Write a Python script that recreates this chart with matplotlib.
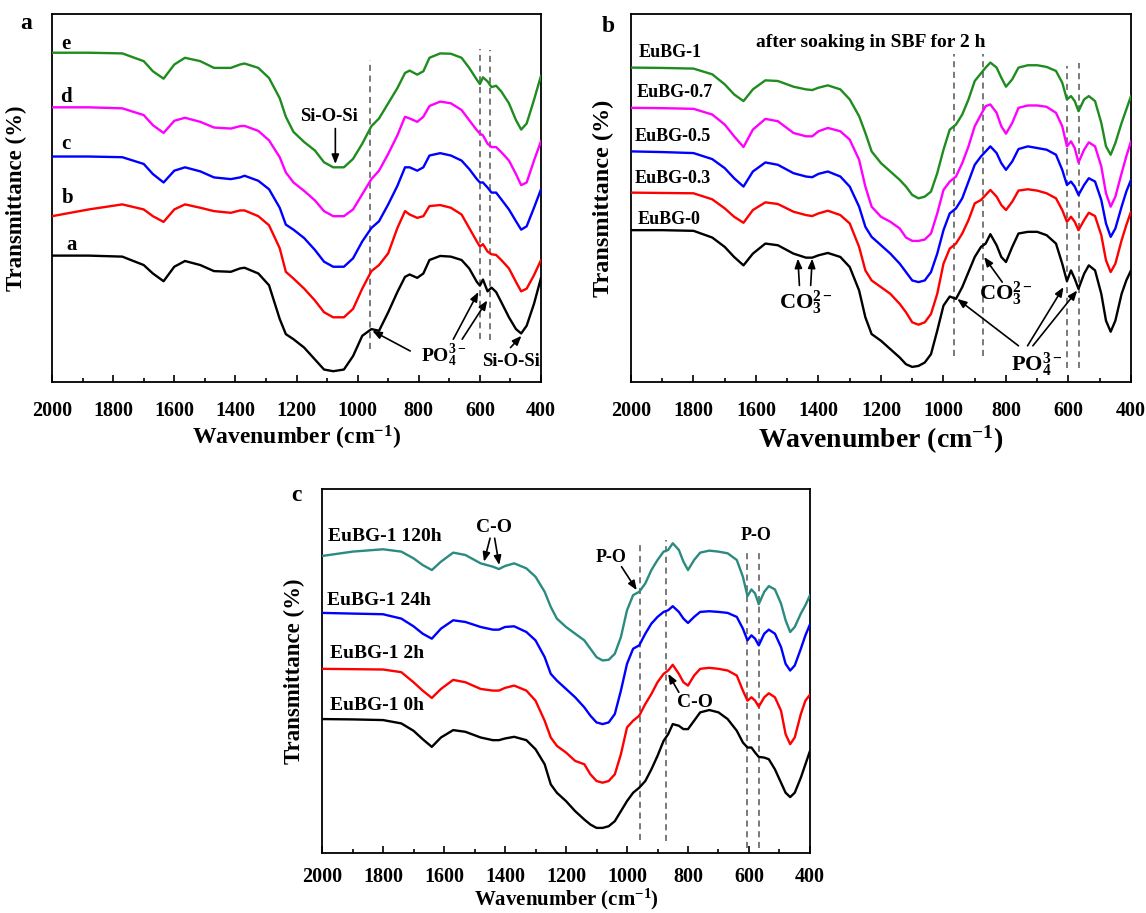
import matplotlib
matplotlib.use("Agg")
import matplotlib.pyplot as plt
from matplotlib.ticker import MultipleLocator

plt.rcParams["font.family"] = ["Liberation Serif", "DejaVu Serif"]
plt.rcParams["font.weight"] = "bold"
plt.rcParams["axes.labelweight"] = "bold"
plt.rcParams["mathtext.fontset"] = "custom"
plt.rcParams["mathtext.rm"] = "Liberation Serif:bold"
plt.rcParams["mathtext.it"] = "Liberation Serif:bold"
plt.rcParams["mathtext.bf"] = "Liberation Serif:bold"
plt.rcParams["mathtext.default"] = "rm"

# ---- panel a: as-prepared glasses (arbitrary transmittance units) ----
wn_a = [2000, 1880, 1770, 1700, 1670, 1635, 1600, 1565, 1515, 1470,
        1415, 1385, 1370, 1325, 1290, 1255, 1235, 1210, 1175, 1140,
        1110, 1080, 1045, 1015, 985, 955, 930, 900, 870, 845,
        830, 805, 785, 765, 730, 695, 660, 635, 610, 600,
        590, 575, 562, 547, 530, 505, 482, 465, 447, 423, 400]
a_e = [977, 977, 975, 952, 922, 900, 942, 962, 952, 932,
       932, 942, 945, 932, 902, 842, 787, 742, 712, 687,
       652, 637, 637, 662, 707, 759, 782, 827, 872, 917,
       924, 912, 922, 962, 975, 974, 962, 932, 897, 884,
       904, 892, 875, 879, 862, 827, 777, 749, 767, 837, 909]
a_d = [815, 815, 812, 792, 762, 739, 775, 784, 772, 755,
       752, 759, 760, 745, 717, 667, 622, 592, 567, 539,
       507, 492, 492, 512, 557, 602, 627, 677, 732, 787,
       782, 772, 787, 819, 832, 827, 807, 777, 747, 737,
       732, 707, 697, 697, 682, 657, 617, 584, 592, 657, 715]
a_c = [669, 669, 667, 647, 617, 592, 627, 637, 625, 607,
       602, 607, 612, 597, 572, 517, 467, 452, 427, 392,
       357, 342, 342, 367, 417, 457, 477, 527, 582, 637,
       637, 627, 637, 672, 679, 672, 657, 632, 602, 592,
       592, 577, 562, 562, 542, 512, 477, 452, 462, 517, 572]
a_b = [492, 512, 527, 512, 492, 475, 512, 527, 517, 507,
       502, 509, 509, 492, 465, 397, 327, 307, 277, 242,
       207, 192, 192, 217, 277, 329, 347, 382, 457, 507,
       497, 487, 492, 522, 525, 517, 497, 457, 417, 402,
       409, 387, 379, 377, 362, 337, 297, 269, 277, 317, 362]
a_a = [375, 375, 372, 347, 322, 299, 342, 359, 347, 329,
       327, 337, 339, 322, 287, 187, 142, 127, 102, 67,
       37, 32, 37, 77, 137, 157, 152, 207, 267, 312,
       319, 309, 322, 362, 374, 372, 362, 337, 297, 286,
       304, 269, 280, 267, 237, 192, 157, 144, 167, 232, 309]
labels_a = ["e", "d", "c", "b", "a"]

# ---- panels b and c share one wavenumber grid ----
wn_bc = [2000, 1900, 1800, 1740, 1700, 1670, 1640, 1610, 1570, 1530,
         1480, 1440, 1420, 1400, 1370, 1330, 1300, 1270, 1250, 1230,
         1200, 1170, 1140, 1120, 1100, 1080, 1060, 1040, 1020, 1000,
         980, 960, 940, 920, 900, 880, 865, 850, 830, 815,
         800, 780, 760, 730, 700, 670, 640, 620, 605, 592,
         580, 568, 550, 535, 515, 495, 480, 465, 450, 430, 415, 400]

# panel b: after 2 h in SBF
b_eu10 = [938, 937, 935, 918, 888, 858, 838, 873, 900, 898,
          881, 873, 871, 878, 885, 873, 843, 793, 743, 688,
          653, 628, 603, 583, 558, 548, 553, 568, 623, 693,
          753, 768, 798, 843, 898, 921, 938, 953, 938, 908,
          881, 903, 938, 945, 945, 940, 928, 893, 843, 853,
          838, 808, 843, 853, 838, 773, 703, 678, 713, 773, 813, 853]
b_eu07 = [818, 817, 815, 798, 768, 733, 701, 753, 785, 778,
          743, 733, 733, 748, 758, 748, 723, 663, 583, 523,
          493, 478, 458, 431, 421, 421, 425, 443, 503, 573,
          598, 613, 653, 703, 763, 798, 823, 828, 803, 763,
          741, 773, 818, 825, 825, 821, 803, 763, 703, 718,
          698, 655, 693, 715, 703, 643, 563, 523, 553, 623, 673, 718]
b_eu05 = [688, 686, 683, 665, 638, 608, 583, 628, 655, 648,
          623, 613, 611, 621, 628, 613, 583, 523, 463, 433,
          408, 383, 353, 328, 303, 298, 303, 328, 383, 453,
          503, 518, 548, 598, 648, 673, 688, 703, 683, 653,
          633, 658, 695, 703, 698, 693, 678, 633, 588, 598,
          583, 558, 588, 608, 598, 543, 473, 433, 458, 523, 568, 603]
b_eu03 = [565, 564, 563, 545, 518, 493, 475, 513, 536, 531,
          508, 498, 495, 503, 511, 498, 473, 403, 333, 303,
          283, 263, 233, 208, 178, 171, 178, 203, 263, 353,
          398, 413, 443, 483, 533, 543, 558, 573, 553, 528,
          513, 538, 571, 575, 571, 563, 548, 513, 478, 493,
          478, 453, 483, 505, 495, 438, 363, 328, 353, 423, 468, 508]
b_eu00 = [453, 453, 451, 431, 403, 373, 348, 383, 413, 408,
          383, 371, 371, 378, 385, 373, 343, 273, 193, 143,
          123, 98, 73, 53, 45, 48, 58, 83, 153, 228,
          255, 248, 283, 328, 373, 403, 413, 441, 408, 373,
          358, 403, 443, 448, 448, 438, 413, 353, 301, 333,
          308, 278, 323, 348, 333, 263, 183, 150, 183, 263, 303, 333]
labels_b = ["EuBG-1", "EuBG-0.7", "EuBG-0.5", "EuBG-0.3", "EuBG-0"]

# panel c: EuBG-1 vs soaking time
c_120h = [887, 900, 907, 900, 880, 860, 845, 870, 897, 890,
          865, 855, 848, 857, 865, 850, 825, 780, 735, 700,
          675, 655, 635, 610, 585, 575, 577, 595, 645, 725,
          770, 780, 805, 845, 875, 900, 905, 925, 905, 870,
          845, 875, 897, 903, 900, 895, 875, 825, 767, 787,
          775, 743, 780, 797, 787, 745, 695, 660, 675, 715, 740, 770]
c_24h = [717, 715, 713, 700, 677, 655, 640, 670, 695, 690,
         675, 667, 667, 675, 677, 660, 635, 585, 535, 515,
         490, 465, 435, 410, 390, 385, 390, 415, 485, 565,
         610, 620, 655, 685, 705, 720, 725, 737, 720, 700,
         687, 705, 720, 722, 720, 717, 705, 670, 635, 650,
         640, 620, 655, 667, 655, 615, 565, 545, 560, 610, 650, 683]
c_2h = [550, 549, 548, 540, 510, 485, 463, 490, 517, 510,
        490, 485, 485, 493, 500, 485, 455, 395, 345, 320,
        300, 275, 265, 235, 215, 210, 215, 235, 295, 375,
        395, 410, 445, 475, 510, 535, 545, 562, 535, 510,
        500, 530, 550, 553, 550, 545, 530, 485, 455, 465,
        455, 437, 465, 477, 465, 425, 355, 325, 345, 415, 455, 473]
c_0h = [400, 399, 397, 387, 365, 340, 317, 345, 367, 362,
        345, 337, 337, 342, 347, 337, 310, 265, 205, 180,
        155, 125, 100, 85, 75, 75, 80, 95, 125, 155,
        180, 195, 215, 250, 290, 335, 355, 385, 380, 370,
        370, 395, 420, 427, 420, 400, 365, 330, 315, 315,
        300, 287, 285, 280, 250, 210, 180, 167, 180, 225, 265, 305]
labels_c = ["EuBG-1 120h", "EuBG-1 24h", "EuBG-1 2h", "EuBG-1 0h"]

# marked band positions (cm-1)
bands_a = [960, 600, 567]
bands_b = [967, 875, 604, 567]
bands_c = [959, 873, 606, 566]

GREEN, MAGENTA, BLUE, RED, BLACK, TEAL = "#1e8c1e", "#ff00ff", "#0000ff", "#ff0000", "#000000", "#2b8b80"
DASH = "#555555"


def setup(ax, top, xl_size, yl_size, ylabel_x, tick_pad, label_pad=2):
    ax.set_xlim(2000, 400)
    ax.set_ylim(0, top)
    ax.xaxis.set_major_locator(MultipleLocator(200))
    ax.xaxis.set_minor_locator(MultipleLocator(100))
    ax.tick_params(axis="x", which="both", direction="in", top=False,
                   labelsize=14.5, pad=tick_pad, width=1.2)
    ax.tick_params(axis="x", which="major", length=5)
    ax.tick_params(axis="x", which="minor", length=3)
    ax.tick_params(axis="y", left=False, labelleft=False)
    for s in ax.spines.values():
        s.set_linewidth(1.3)
    ax.set_xlabel("Wavenumber (cm$^{-1}$)", fontsize=xl_size, labelpad=label_pad)
    ax.set_ylabel("Transmittance (%)", fontsize=yl_size)
    ax.yaxis.set_label_coords(ylabel_x, 0.5)


def arrow(ax, start, end):
    ax.annotate("", xy=end, xytext=start,
                arrowprops=dict(arrowstyle="-|>,head_length=0.55,head_width=0.22",
                                color="k", lw=1.2, shrinkA=0, shrinkB=0))


def dashes(ax, xs, spans):
    for x, (y0, y1) in zip(xs, spans):
        ax.plot([x, x], [y0, y1], ls=(0, (4, 3)), color=DASH, lw=1.1, zorder=1)


def curve(ax, x, y, col):
    ax.plot(x, y, color=col, lw=1.7, zorder=3,
            solid_joinstyle="round", solid_capstyle="round")


fig = plt.figure(figsize=(11.46, 9.13), dpi=100)
ax_a = fig.add_axes([0.0454, 0.5816, 0.4267, 0.4031])
ax_b = fig.add_axes([0.5506, 0.5816, 0.4363, 0.4031])
ax_c = fig.add_axes([0.2810, 0.0657, 0.4258, 0.3987])

# ---------------- panel a ----------------
ax = ax_a
setup(ax, 1092, 17, 16.5, -0.051, 14)
for ys, col in zip([a_e, a_d, a_c, a_b, a_a], [GREEN, MAGENTA, BLUE, RED, BLACK]):
    curve(ax, wn_a, ys, col)
for lab, (x, y) in zip(labels_a, [(1955, 1002), (1955, 847), (1955, 707), (1950, 547), (1937, 407)]):
    ax.text(x, y, lab, fontsize=15, ha="center", va="center")
dashes(ax, bands_a, [(97, 954), (127, 989), (125, 985)])
ax.text(1093, 787, "Si-O-Si", fontsize=13.5, ha="center", va="center")
arrow(ax, (1073, 752), (1073, 647))
ax.text(717, 77, "PO$_4^{3-}$", fontsize=14, ha="center", va="center")
arrow(ax, (828, 92), (952, 152))
arrow(ax, (687, 127), (605, 267))
arrow(ax, (658, 127), (576, 242))
ax.text(498, 62, "Si-O-Si", fontsize=13.5, ha="center", va="center")
arrow(ax, (500, 102), (464, 137))

# ---------------- panel b ----------------
ax = ax_b
setup(ax, 1098, 20, 17.5, -0.034, 14)
for ys, col in zip([b_eu10, b_eu07, b_eu05, b_eu03, b_eu00], [GREEN, MAGENTA, BLUE, RED, BLACK]):
    curve(ax, wn_bc, ys, col)
for lab, (x, y) in zip(labels_b, [(1977, 983), (1983, 863), (1988, 731), (1988, 606), (1979, 486)]):
    ax.text(x, y, lab, fontsize=13, ha="left", va="center")
ax.text(1233, 1013, "after soaking in SBF for 2 h", fontsize=14, ha="center", va="center")
dashes(ax, bands_b, [(78, 978), (78, 978), (43, 943), (43, 953)])
ax.text(1440, 238, "CO$_3^{2-}$", fontsize=16, ha="center", va="center")
arrow(ax, (1461, 288), (1466, 368))
arrow(ax, (1425, 288), (1420, 368))
ax.text(800, 263, "CO$_3^{2-}$", fontsize=16, ha="center", va="center")
arrow(ax, (812, 298), (870, 373))
ax.text(702, 53, "PO$_4^{3-}$", fontsize=16, ha="center", va="center")
arrow(ax, (760, 108), (956, 248))
arrow(ax, (731, 108), (616, 283))
arrow(ax, (714, 108), (572, 273))

# ---------------- panel c ----------------
ax = ax_c
setup(ax, 1087, 15, 16.5, -0.035, 10, label_pad=0)
for ys, col in zip([c_120h, c_24h, c_2h, c_0h], [TEAL, BLUE, RED, BLACK]):
    curve(ax, wn_bc, ys, col)
for lab, (x, y) in zip(labels_c, [(1979, 945), (1985, 755), (1975, 595), (1975, 440)]):
    ax.text(x, y, lab, fontsize=14, ha="left", va="center")
dashes(ax, bands_c, [(40, 923), (35, 935), (15, 895), (15, 895)])
ax.text(1436, 973, "C-O", fontsize=14, ha="center", va="center")
arrow(ax, (1449, 940), (1469, 870))
arrow(ax, (1434, 940), (1419, 860))
ax.text(1053, 883, "P-O", fontsize=13, ha="center", va="center")
arrow(ax, (1018, 855), (968, 785))
ax.text(578, 947, "P-O", fontsize=13, ha="center", va="center")
ax.text(777, 450, "C-O", fontsize=14, ha="center", va="center")
arrow(ax, (830, 480), (865, 535))

# panel letters
fig.text(0.0227, 0.974, "a", fontsize=17, ha="center", va="center")
fig.text(0.531, 0.9715, "b", fontsize=17, ha="center", va="center")
fig.text(0.259, 0.457, "c", fontsize=17, ha="center", va="center")

fig.savefig("out.png", dpi=100)
